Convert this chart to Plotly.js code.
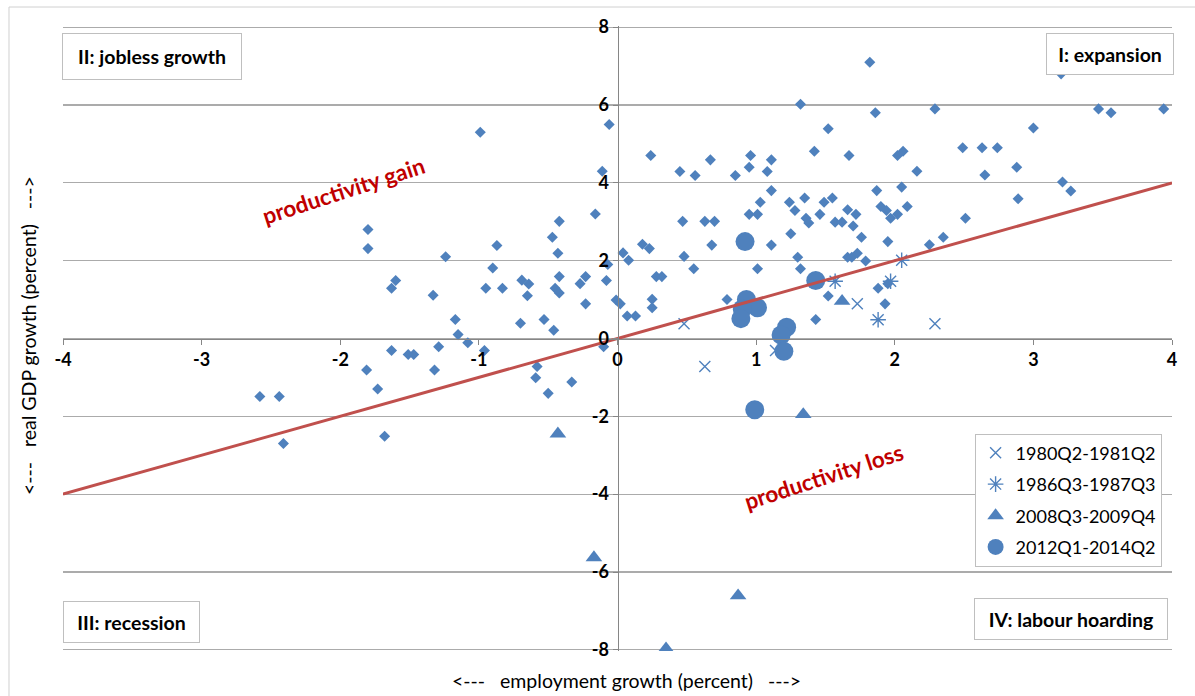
<!DOCTYPE html>
<html>
<head>
<meta charset="utf-8">
<script src="https://cdn.plot.ly/plotly-3.0.1.min.js"></script>
<style>html,body{margin:0;padding:0;background:#fff;}#chart{width:1195px;height:696px;}</style>
</head>
<body>
<div id="chart"></div>
<script>
// All quarters (employment growth, real GDP growth)
const allX = [-2.58,-2.44,-2.41,-1.80,-1.80,-1.60,-1.63,-1.63,-1.81,-1.73,-1.68,-1.24,-1.33,-1.17,-1.15,-1.08,-0.96,-1.51,-1.47,-1.29,-1.32,-0.99,-0.87,-0.90,-0.95,-0.83,-0.69,-0.64,-0.65,-0.70,-0.53,-0.46,-0.42,-0.47,-0.43,-0.42,-0.45,-0.42,-0.58,-0.59,-0.50,-0.33,-0.23,-0.27,-0.23,-0.08,-0.07,-0.10,-0.01,0.02,0.04,0.08,0.07,0.13,0.18,0.23,0.25,0.25,0.28,0.32,0.48,0.55,0.47,0.63,0.70,0.68,0.79,1.01,1.11,1.25,1.30,1.32,-0.06,-0.11,-0.16,0.24,0.45,0.56,0.67,0.85,0.95,0.96,1.08,1.11,1.11,1.03,0.95,1.01,1.24,1.28,1.32,1.86,2.29,1.52,1.42,1.67,2.02,2.06,2.16,2.49,2.63,2.74,2.65,1.87,2.05,1.35,1.49,1.55,1.36,1.38,1.46,1.57,1.62,1.66,1.72,1.70,1.90,1.94,1.97,2.02,2.09,2.51,1.76,1.95,2.25,2.35,1.66,1.69,1.73,1.79,1.88,1.95,1.52,1.93,1.43,1.82,3.20,3.47,3.56,3.94,3.00,2.88,3.21,3.27,2.89];
const allY = [-1.49,-1.49,-2.70,2.80,2.31,1.49,1.29,-0.31,-0.81,-1.30,-2.51,2.10,1.11,0.49,0.10,-0.11,-0.31,-0.41,-0.41,-0.21,-0.81,5.30,2.39,1.81,1.29,1.29,1.50,1.40,1.10,0.39,0.49,0.21,3.01,2.60,2.19,1.59,1.29,1.17,-0.72,-1.01,-1.41,-1.12,1.59,1.41,0.89,1.49,1.90,-0.21,0.99,0.89,2.20,2.01,0.58,0.58,2.42,2.31,1.01,0.79,1.59,1.59,2.11,1.79,3.01,3.01,3.01,2.40,1.00,1.79,2.40,2.69,2.09,1.79,5.50,4.30,3.20,4.70,4.29,4.19,4.59,4.19,4.40,4.70,4.29,4.59,3.80,3.50,3.19,3.19,3.50,3.29,6.02,5.80,5.90,5.39,4.81,4.70,4.70,4.81,4.30,4.90,4.90,4.90,4.20,3.80,3.89,3.61,3.50,3.61,3.09,2.97,3.19,2.99,2.99,3.31,3.19,2.89,3.39,3.29,3.09,3.19,3.39,3.09,2.60,2.49,2.41,2.60,2.09,2.09,2.19,1.99,1.29,1.41,1.09,0.89,0.49,7.10,6.80,5.90,5.80,5.90,5.41,4.40,4.02,3.79,3.59];

// Highlighted episodes
const ep1Name = "1980Q2-1981Q2";
const ep1X = [0.48, 0.63, 1.14, 1.73, 2.29];
const ep1Y = [0.38, -0.72, -0.31, 0.89, 0.38];

const ep2Name = "1986Q3-1987Q3";
const ep2X = [1.57, 1.88, 1.97, 2.05];
const ep2Y = [1.47, 0.48, 1.47, 2.01];

const ep3Name = "2008Q3-2009Q4";
const ep3X = [-0.43, 1.62, 1.34, -0.17, 0.87, 0.35];
const ep3Y = [-2.45, 0.96, -1.95, -5.63, -6.61, -7.97];

const ep4Name = "2012Q1-2014Q2";
const ep4X = [0.92, 0.93, 1.01, 0.90, 0.89, 1.22, 1.18, 1.20, 0.99, 1.43];
const ep4Y = [2.49, 1.00, 0.79, 0.76, 0.51, 0.29, 0.09, -0.33, -1.83, 1.49];

// 45-degree line (zero productivity growth)
const lineX = [-4, 4];
const lineY = [-4, 4];

// Tick labels
const xTickVals = [-4, -3, -2, -1, 0, 1, 2, 3, 4];
const xTickText = ["-4", "-3", "-2", "-1", "0", "1", "2", "3", "4"];
const yTickVals = [-8, -6, -4, -2, 0, 2, 4, 6, 8];
const yTickText = ["-8", "-6", "-4", "-2", "0", "2", "4", "6", "8"];

const BLUE = "#4F81BD";
const FONT = "Lato, 'Open Sans', sans-serif";

const traces = [
  {x: allX, y: allY, type: "scatter", mode: "markers", name: "all quarters", showlegend: false,
   marker: {symbol: "diamond", size: 8.5, color: BLUE}},
  {x: ep1X, y: ep1Y, type: "scatter", mode: "markers", name: ep1Name, legendgroup: "a",
   marker: {symbol: "x-thin-open", size: 11, color: BLUE, line: {color: BLUE, width: 1.4}}},
  {x: ep2X, y: ep2Y, type: "scatter", mode: "markers", name: ep2Name, legendgroup: "b",
   marker: {symbol: "asterisk-open", size: 13, color: BLUE, line: {color: BLUE, width: 1.4}}},
  {x: ep3X, y: ep3Y, type: "scatter", mode: "markers", name: ep3Name, legendgroup: "c",
   marker: {symbol: "triangle-up", size: 14.5, color: BLUE}},
  {x: ep4X, y: ep4Y, type: "scatter", mode: "markers", name: ep4Name, legendgroup: "d",
   marker: {symbol: "circle", size: 19, color: BLUE}},
  {x: lineX, y: lineY, type: "scatter", mode: "lines", name: "productivity line", showlegend: false,
   line: {color: "#C0504D", width: 3}}
];

function box(text, x, y, xa, ya, w, h) {
  return {text: text, xref: "paper", yref: "paper", x: x, y: y, xanchor: xa, yanchor: ya,
    showarrow: false, width: w, height: h, bordercolor: "#BFBFBF", borderwidth: 1, borderpad: 0,
    bgcolor: "#FFFFFF", align: "center", valign: "middle",
    font: {family: FONT, size: 19.5, color: "#000", weight: 700}};
}

const layout = {
  width: 1195, height: 696,
  margin: {l: 63, r: 23, t: 26, b: 45},
  paper_bgcolor: "#FFFFFF", plot_bgcolor: "#FFFFFF",
  font: {family: FONT, color: "#000"},
  xaxis: {range: [-4, 4], tickmode: "array", tickvals: xTickVals, ticktext: xTickText,
    anchor: "free", position: 0.5, showline: true, linecolor: "#868686", linewidth: 1,
    ticks: "outside", ticklen: 5, tickcolor: "#868686", showgrid: false, zeroline: false,
    tickfont: {family: FONT, size: 18, color: "#000", weight: 700}, fixedrange: true},
  yaxis: {range: [-8.03, 8.03], tickmode: "array", tickvals: yTickVals, ticktext: yTickText,
    anchor: "free", position: 0.5, showline: true, linecolor: "#868686", linewidth: 1,
    ticks: "outside", ticklen: 5, tickcolor: "#868686", showgrid: true, gridcolor: "#ABABAB",
    gridwidth: 1.3, zeroline: false,
    tickfont: {family: FONT, size: 18, color: "#000", weight: 700}, fixedrange: true},
  legend: {x: 0.822, y: 0.348, xanchor: "left", yanchor: "top", bordercolor: "#BFBFBF",
    borderwidth: 1, bgcolor: "#FFFFFF", font: {family: FONT, size: 18, color: "#000"},
    traceorder: "grouped", tracegroupgap: 5},
  shapes: [
    {type: "rect", xref: "paper", yref: "paper", x0: -0.0487, x1: 1.05, y0: -0.12, y1: 1.0304,
     line: {color: "#D0D0D0", width: 1}, fillcolor: "rgba(0,0,0,0)", layer: "below"}
  ],
  annotations: [
    box("II: jobless growth", -0.0009, 0.9888, "left", "top", 178, 45),
    box("I: expansion", 1.0018, 0.9888, "right", "top", 126, 40),
    box("III: recession", 0.0, 0.0795, "left", "top", 135, 40),
    box("IV: labour hoarding", 0.9964, 0.0843, "right", "top", 192, 40),
    {text: "productivity gain", xref: "x", yref: "y", x: -1.976, y: 3.80, showarrow: false,
     textangle: -18, font: {family: FONT, size: 22.5, color: "#C00000", weight: 700}},
    {text: "productivity loss", xref: "x", yref: "y", x: 1.49, y: -3.55, showarrow: false,
     textangle: -18, font: {family: FONT, size: 22.5, color: "#C00000", weight: 700}},
    {text: "&lt;---&nbsp;&nbsp;&nbsp;employment growth (percent)&nbsp;&nbsp;&nbsp;---&gt;",
     xref: "paper", yref: "paper", x: 0.5077, y: -0.0475, xanchor: "center", yanchor: "middle",
     showarrow: false, font: {family: FONT, size: 19.5, color: "#000"}},
    {text: "&lt;---&nbsp;&nbsp;&nbsp;real GDP growth (percent)&nbsp;&nbsp;&nbsp;---&gt;",
     xref: "paper", yref: "paper", x: -0.0307, y: 0.5056, xanchor: "center", yanchor: "middle",
     textangle: -90, showarrow: false, font: {family: FONT, size: 19.5, color: "#000"}}
  ]
};

Plotly.newPlot("chart", traces, layout, {displayModeBar: false, staticPlot: true});
</script>
</body>
</html>
